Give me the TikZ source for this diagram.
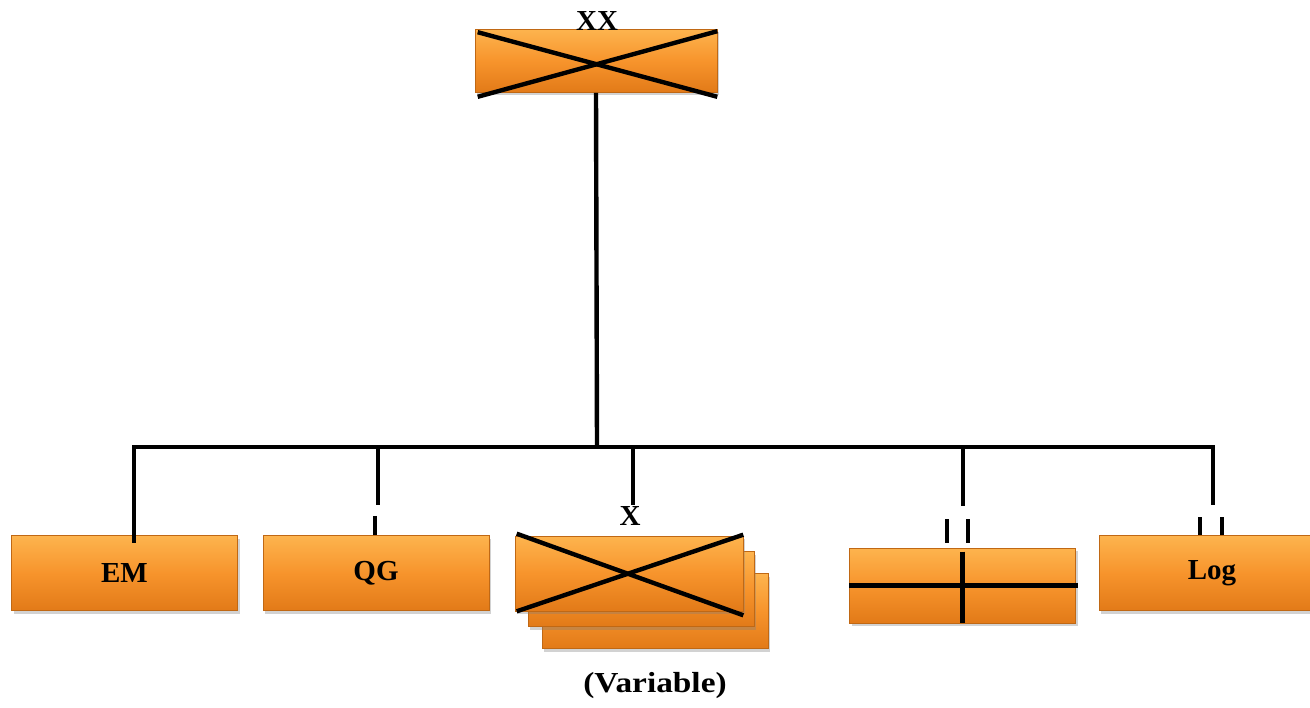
\documentclass[tikz,border=0pt]{standalone}
\usepackage{fontspec}
\setmainfont{Liberation Serif}
\usetikzlibrary{shadows}
\definecolor{boxtop}{HTML}{FDB44E}
\definecolor{boxmid}{HTML}{F7942C}
\definecolor{boxbot}{HTML}{E27A18}
\tikzset{
  obox/.style={rectangle, minimum width=226pt, minimum height=75pt, inner sep=0pt,
    top color=boxtop, bottom color=boxbot, middle color=boxmid, draw=boxbot!85!black, line width=0.6pt,
    drop shadow={shadow xshift=2pt, shadow yshift=-3pt, opacity=0.35},
    font=\fontsize{29}{32}\selectfont\bfseries},
  wire/.style={line width=4.4pt, black},
  lbl/.style={font=\fontsize{29}{32}\selectfont\bfseries, inner sep=0pt}
}
\begin{document}
\begin{tikzpicture}[x=1pt,y=-1pt]
\useasboundingbox[fill=white] (0,0) rectangle (1310,708);
% top box
\node[obox, minimum width=242pt, minimum height=63pt] (top) at (596,61) {};
\node[lbl] (toplbl) at (597,21) {XX};
\draw[wire] ([xshift=3pt,yshift=-3pt]top.north west) -- ([yshift=-4pt]top.south east);
\draw[wire] ([xshift=3pt,yshift=-4pt]top.south west) -- ([yshift=-2pt]top.north east);
% boxes
\node[obox] (em) at (124.5,573) {EM};
\node[obox] (qg) at (376,573) {QG};
\node[obox] (x3) at (655,611) {};
\node[obox] (x2) at (641,589) {};
\node[obox, minimum width=228pt] (x1) at (629,573.5) {};
\draw[wire] ([xshift=2pt,yshift=2pt]x1.north west) -- ([yshift=-4pt]x1.south east);
\draw[wire] ([xshift=2pt]x1.south west) -- ([yshift=1pt]x1.north east);
\node[lbl] (xlbl) at (630,516) {X};
\node[lbl, xscale=1.15] (var) at (655,686) {(Variable)};
\node[obox] (bx) at (962.5,585.5) {};
\draw[wire] (bx.west) -- ([xshift=2pt]bx.east);
\draw[wire] ([yshift=-4pt]bx.north) -- (bx.south);
\node[obox] (log) at (1212,573) {Log};
% connectors
\coordinate (bus) at (597,447);
\coordinate (busL) at (134,447);
\coordinate (busR) at (1213,447);
\draw[wire] (top.south) -- (bus);
\draw[wire, line cap=rect] (busL) -- (busR);
\draw[wire] (busL) -- (134,543);
\coordinate (qgend) at (378,505);
\draw[wire] (378,447) -- (qgend);
\draw[wire] (375,516) -- (qg.north -| 375,0);
\coordinate (xend) at (633,505);
\draw[wire] (633,447) -- (xend);
\coordinate (bxend) at (963,506);
\draw[wire] (963,447) -- (bxend);
\draw[wire] (947,519) -- (947,543);
\draw[wire] (968,519) -- (968,543);
\coordinate (logend) at (1213,505);
\draw[wire] (busR) -- (logend);
\draw[wire] (1200,517) -- (log.north -| 1200,0);
\draw[wire] (1222,517) -- (log.north -| 1222,0);
\end{tikzpicture}
\end{document}
